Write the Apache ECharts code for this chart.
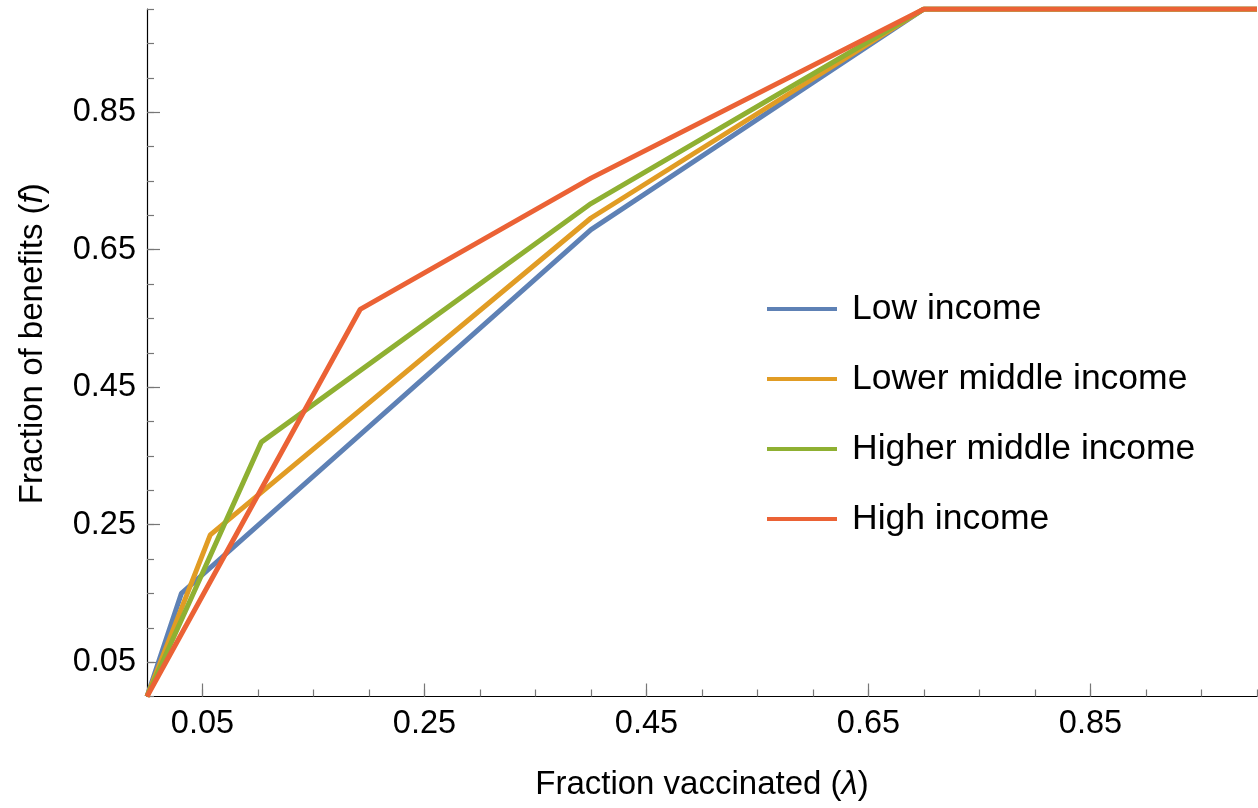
<!DOCTYPE html>
<html>
<head>
    <meta charset="utf-8" />
    <script src="https://cdn.jsdelivr.net/npm/echarts@6/dist/echarts.min.js"></script>
    <title></title>
    <style>
        html, body { margin: 0; padding: 0; background: #fff; }
    </style>
</head>
<body>
    <div id="main" style="width: 1258px;height:808px;"></div>
</body>
</html>
<script>
    var seriesNames = ['Low income', 'Lower middle income', 'Higher middle income', 'High income'];
    var colors = ['#5E81B5', '#E19C24', '#8FB032', '#EB6235'];
    var lowIncome = [[0, 0], [0.031, 0.150], [0.400, 0.679], [0.700, 1.0], [1.0, 1.0]];
    var lowerMiddle = [[0, 0], [0.057, 0.235], [0.400, 0.696], [0.700, 1.0], [1.0, 1.0]];
    var higherMiddle = [[0, 0], [0.103, 0.370], [0.400, 0.717], [0.700, 1.0], [1.0, 1.0]];
    var highIncome = [[0, 0], [0.192, 0.563], [0.400, 0.754], [0.700, 1.0], [1.0, 1.0]];
    var majorTicks = [0.05, 0.25, 0.45, 0.65, 0.85];

    var font = 'Liberation Sans, Arial, sans-serif';
    var chart = echarts.init(document.getElementById('main'));

    function axisBase(pos) {
        return {
            type: 'value',
            position: pos,
            min: 0,
            max: 1,
            interval: 0.05,
            splitLine: { show: false },
            axisLine: { show: true, onZero: false, lineStyle: { color: '#000', width: 1.2 } },
            axisTick: { show: true, inside: true, length: 7, lineStyle: { color: '#777', width: 1.2 } },
            axisLabel: {
                customValues: majorTicks,
                color: '#000',
                fontSize: 32.5,
                fontFamily: font,
                margin: 11,
                formatter: function (v) { return v.toFixed(2); }
            }
        };
    }

    function majorAxis(pos) {
        return {
            type: 'value',
            position: pos,
            offset: 0,
            min: 0,
            max: 1,
            interval: 0.05,
            splitLine: { show: false },
            axisLine: { show: false, onZero: false },
            axisLabel: { show: false },
            axisTick: { show: true, inside: true, length: 13, customValues: majorTicks, lineStyle: { color: '#777', width: 1.2 } }
        };
    }

    var italic = { fontStyle: 'italic', fontSize: 33, fontFamily: font, color: '#000' };

    var xMain = axisBase('bottom');
    xMain.name = 'Fraction vaccinated ({i|λ})';
    xMain.nameLocation = 'middle';
    xMain.nameGap = 72;
    xMain.nameTextStyle = { color: '#000', fontSize: 33, fontFamily: font, rich: { i: italic } };

    var yMain = axisBase('left');
    yMain.name = 'Fraction of benefits ({i|f})';
    yMain.nameLocation = 'middle';
    yMain.nameGap = 98;
    yMain.nameTextStyle = { color: '#000', fontSize: 33, fontFamily: font, padding: [0, 0, 0, 18], rich: { i: italic } };

    var allData = [lowIncome, lowerMiddle, higherMiddle, highIncome];
    var series = [];
    for (var i = 0; i < seriesNames.length; i++) {
        series.push({
            name: seriesNames[i],
            type: 'line',
            data: allData[i],
            symbol: 'none',
            color: colors[i],
            lineStyle: { width: 5, color: colors[i] },
            clip: true
        });
    }

    var option = {
        animation: false,
        backgroundColor: '#fff',
        grid: { left: 147, top: 9, width: 1110, height: 687.5, containLabel: false },
        legend: {
            orient: 'vertical',
            left: 762,
            top: 286,
            itemWidth: 70,
            itemHeight: 4,
            itemGap: 34,
            icon: 'rect',
            textStyle: { color: '#000', fontSize: 35.5, fontFamily: font, padding: [0, 0, 0, 10] },
            data: seriesNames
        },
        xAxis: [xMain, majorAxis('bottom')],
        yAxis: [yMain, majorAxis('left')],
        series: series
    };

    chart.setOption(option);
</script>
